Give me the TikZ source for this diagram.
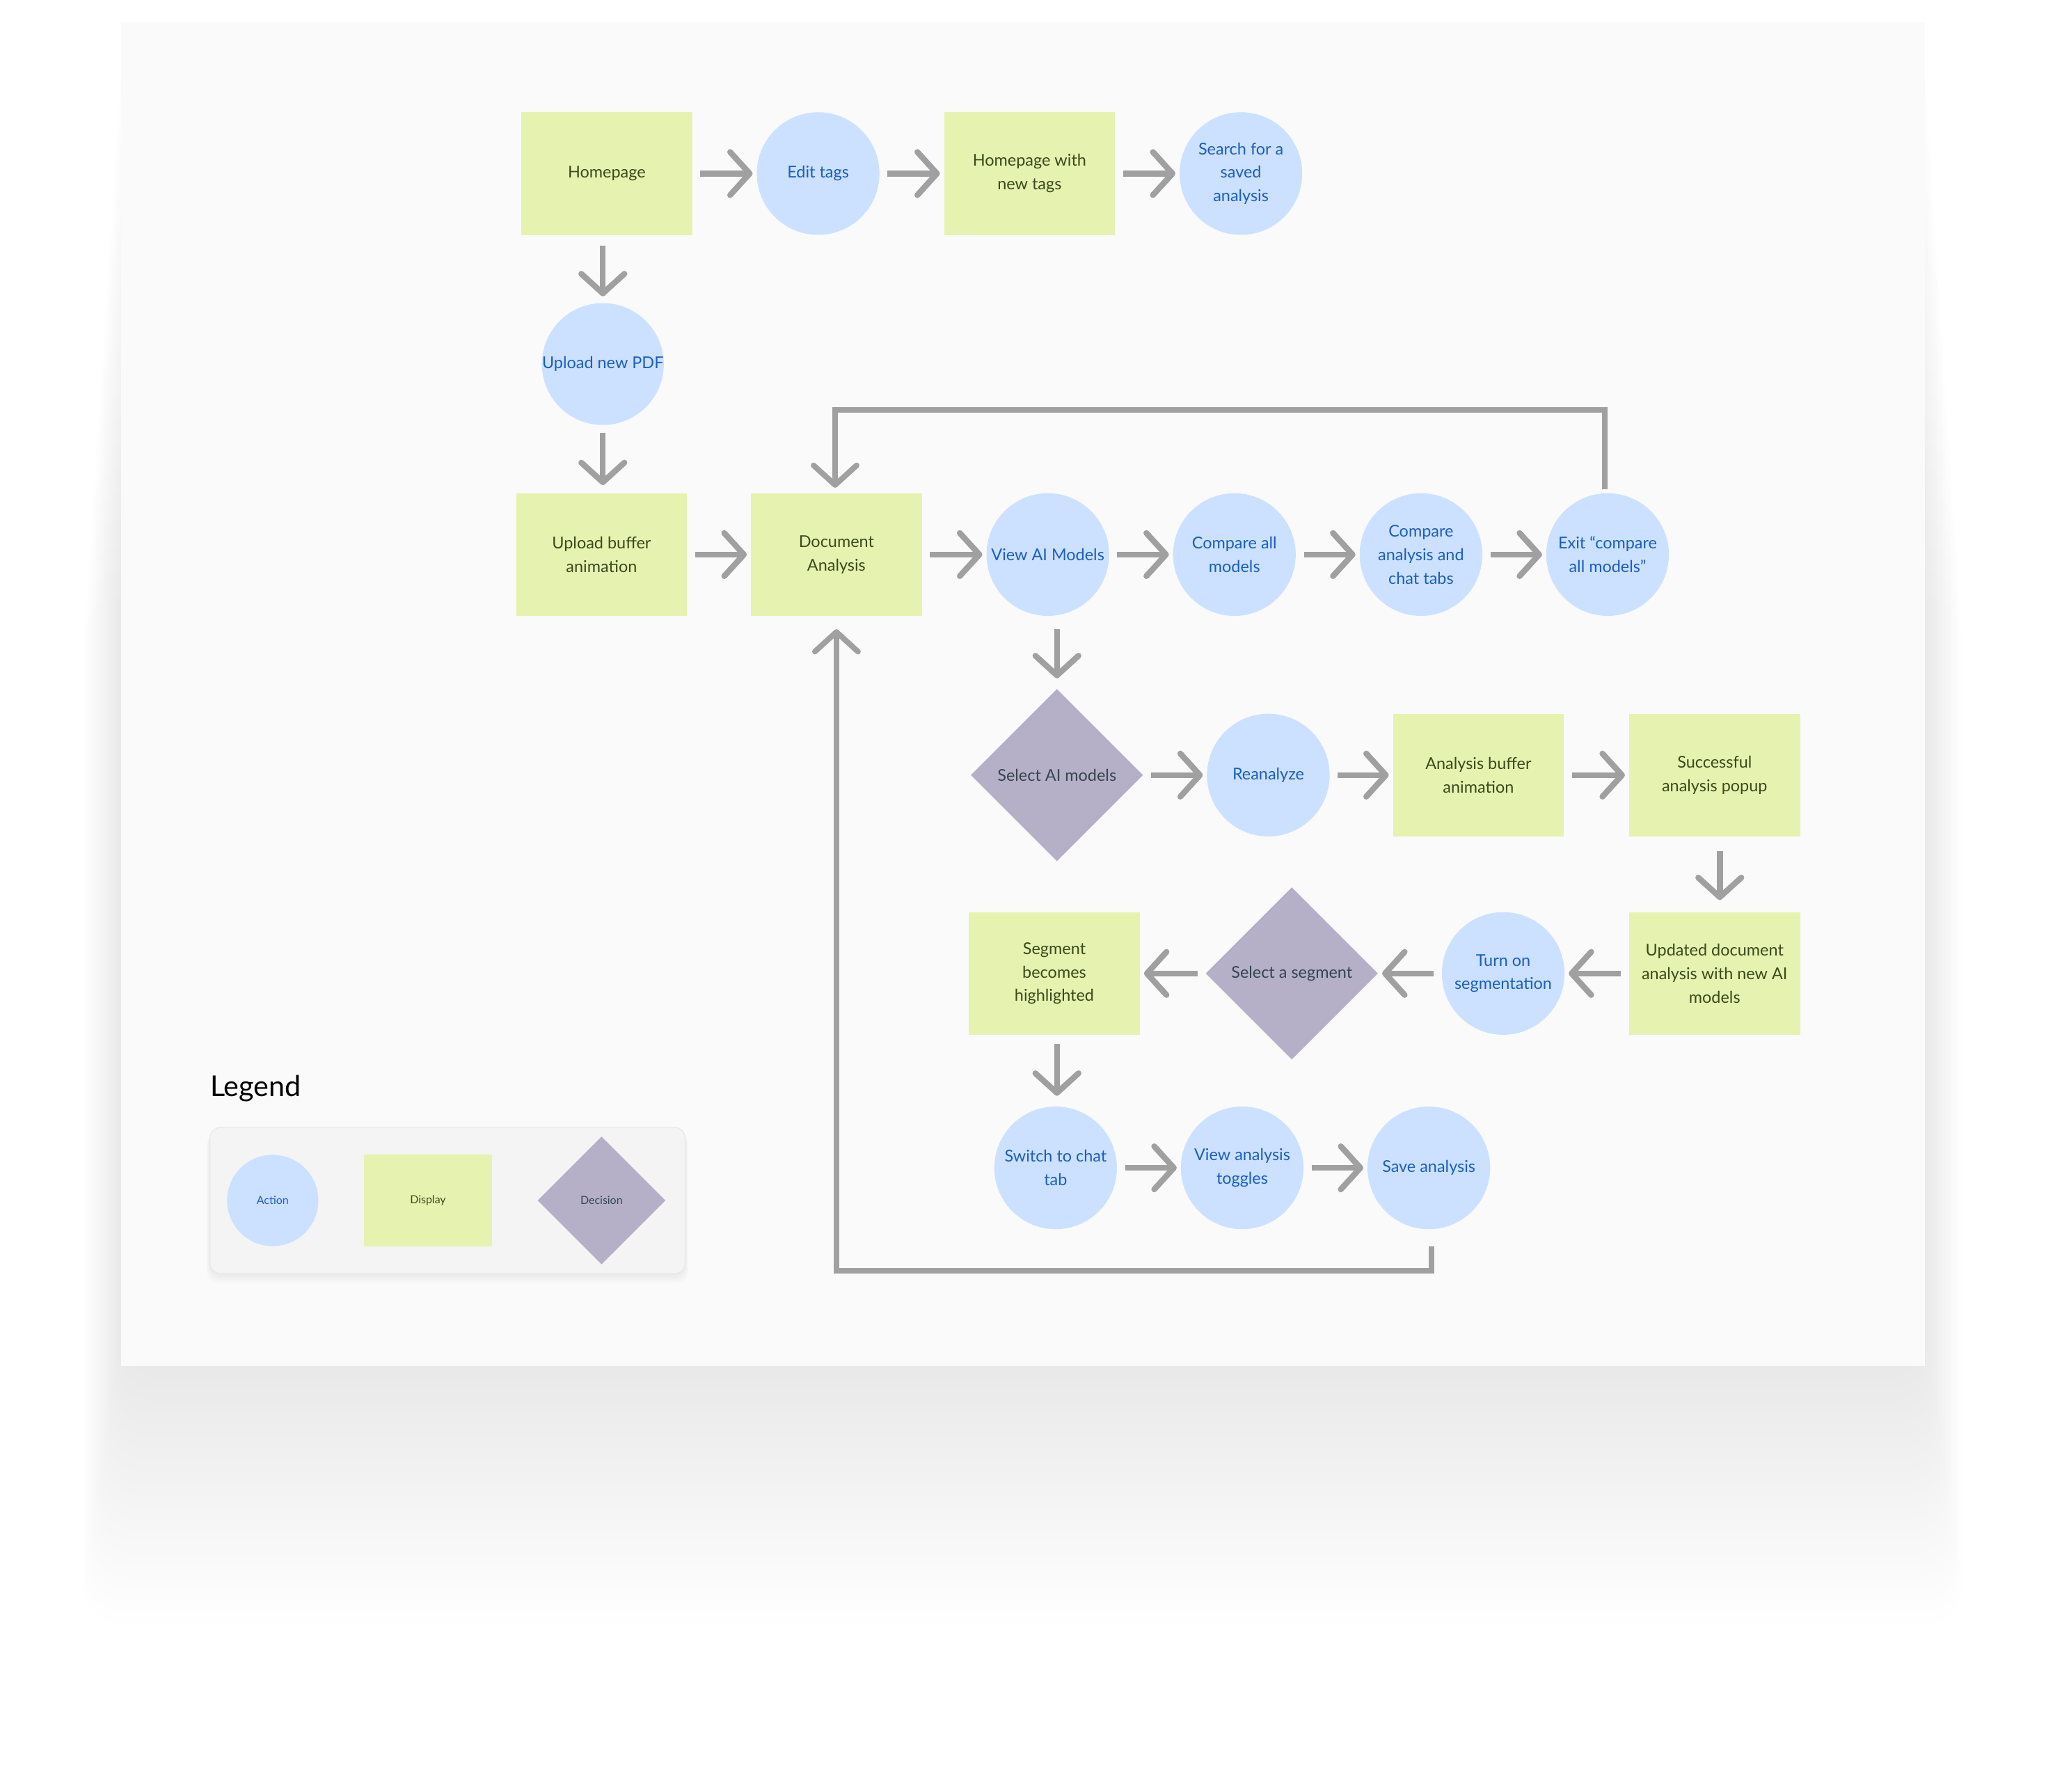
\documentclass[tikz,border=0pt]{standalone}
\usepackage{fontspec}
\setmainfont{Lato}
\usetikzlibrary{arrows.meta,shapes.geometric}
\definecolor{dispfill}{HTML}{E6F2B0}
\definecolor{disptext}{HTML}{3B4A1C}
\definecolor{actfill}{HTML}{CCE1FF}
\definecolor{acttext}{HTML}{1B5FBF}
\definecolor{decfill}{HTML}{B5B0C8}
\definecolor{dectext}{HTML}{33474F}
\definecolor{arrowgray}{HTML}{A0A0A0}
\definecolor{panel}{HTML}{FAFAFA}
\definecolor{legendfill}{HTML}{F4F4F4}
\definecolor{legendborder}{HTML}{E8E8E8}
\tikzset{
  mainfs/.style={font=\fontsize{12.5}{18}\selectfont},
  disp/.style={rectangle, fill=dispfill, minimum width=131pt, minimum height=94pt, text=disptext, align=center, inner sep=0pt, mainfs},
  act/.style={circle, fill=actfill, minimum size=94pt, text=acttext, align=center, inner sep=0pt, mainfs},
  dec/.style={diamond, fill=decfill, minimum width=132pt, minimum height=132pt, text=dectext, align=center, inner sep=0pt, mainfs},
  flow/.style={draw=arrowgray, line width=4.5pt, -{Straight Barb[length=15pt,width=33pt,round]}, shorten <=6pt, shorten >=3pt},
  loopline/.style={draw=arrowgray, line width=4.3pt, -{Straight Barb[length=15pt,width=33pt,round]}},
  legfs/.style={font=\fontsize{8.5}{10}\selectfont},
}
\begin{document}
\begin{tikzpicture}[x=1pt,y=-1pt]
\useasboundingbox (0,0) rectangle (1568,1373);
\fill[white] (0,0) rectangle (1568,1373);
% panel shadow
\foreach \i in {1,...,22}{
  \fill[black, opacity=0.004, rounded corners=30pt] (93-1.3*\i,17+20*\i) rectangle (1475+1.3*\i,1047+9*\i);
}
\fill[panel] (93,17) rectangle (1475,1047);

% row 1
\node[disp] (home) at (465,133) {Homepage};
\node[act] (edit) at (627,133) {Edit tags};
\node[disp] (homenew) at (789,133) {Homepage with\\new tags};
\node[act] (search) at (951,133) {Search for a\\saved\\analysis};
\node[act, minimum size=93pt] (upload) at (462,279) {Upload new PDF};
% row 2
\node[disp] (ubuf) at (461,425) {Upload buffer\\animation};
\node[disp] (doc) at (641,425) {Document\\Analysis};
\node[act] (view) at (803,425) {View AI Models};
\node[act] (cmpall) at (946,425) {Compare all\\models};
\node[act] (cmpchat) at (1089,425) {Compare\\analysis and\\chat tabs};
\node[act] (exit) at (1232,425) {Exit “compare\\all models”};
% row 3
\node[dec] (selai) at (810,594) {Select AI models};
\node[act] (rean) at (972,594) {Reanalyze};
\node[disp] (abuf) at (1133,594) {Analysis buffer\\animation};
\node[disp] (succ) at (1314,594) {Successful\\analysis popup};
% row 4
\node[disp] (upd) at (1314,746) {Updated document\\analysis with new AI\\models};
\node[act] (turn) at (1152,746) {Turn on\\segmentation};
\node[dec] (selseg) at (990,746) {Select a segment};
\node[disp] (seghl) at (808,746) {Segment\\becomes\\highlighted};
% row 5
\node[act] (switch) at (809,895) {Switch to chat\\tab};
\node[act] (vtog) at (952,895) {View analysis\\toggles};
\node[act] (save) at (1095,895) {Save analysis};

% horizontal arrows
\draw[flow] (home) -- (edit);
\draw[flow] (edit) -- (homenew);
\draw[flow] (homenew) -- (search);
\draw[flow] (ubuf) -- (doc);
\draw[flow] (doc) -- (view);
\draw[flow] (view) -- (cmpall);
\draw[flow] (cmpall) -- (cmpchat);
\draw[flow] (cmpchat) -- (exit);
\draw[flow] (selai) -- (rean);
\draw[flow] (rean) -- (abuf);
\draw[flow] (abuf) -- (succ);
\draw[flow] (upd) -- (turn);
\draw[flow] (turn) -- (selseg);
\draw[flow] (selseg) -- (seghl);
\draw[flow] (switch) -- (vtog);
\draw[flow] (vtog) -- (save);
% vertical arrows
\draw[flow, shorten <=8pt, shorten >=5pt] (home.south -| upload.north) -- (upload.north);
\draw[flow, shorten <=6pt, shorten >=6pt] (upload.south) -- (upload.south |- ubuf.north);
\draw[flow, shorten <=10pt, shorten >=8pt] (view.south -| selai.north) -- (selai.north);
\coordinate (sx) at (1318,0);
\draw[flow, shorten <=11pt, shorten >=9pt] (succ.south -| sx) -- (upd.north -| sx);
\coordinate (hx) at (810,0);
\draw[flow, shorten <=7pt, shorten >=8pt] (seghl.south -| hx) -- (switch.north -| hx);

% loops
\coordinate (tl) at (640,314);
\coordinate (tr) at (1230,314);
\draw[loopline, shorten <=3pt, shorten >=4pt] (exit.north -| tr) -- (tr) -- (tl) -- (doc.north -| tl);
\coordinate (br) at (1097,974);
\coordinate (bl) at (641,974);
\draw[loopline, shorten <=13pt, shorten >=10pt] (save.south -| br) -- (br) -- (bl) -- (doc.south -| bl);

% legend
\node[anchor=base west, inner sep=0pt, font=\fontsize{22}{26}\selectfont, text=black] (legtitle) at (161,840) {Legend};
\foreach \j in {1,...,5}{
  \fill[black, opacity=0.012, rounded corners=9pt] (161-0.5*\j,864+1*\j) rectangle (525+0.5*\j,976+1.5*\j);
}
\draw[fill=legendfill, draw=legendborder, line width=0.6pt, rounded corners=8pt] (161,864) rectangle (525,976);
\node[act, minimum size=70pt, legfs] (legact) at (209,920) {Action};
\node[disp, minimum width=98pt, minimum height=70pt, legfs] (legdisp) at (328,920) {Display};
\node[dec, minimum width=98pt, minimum height=98pt, legfs] (legdec) at (461,920) {Decision};
\end{tikzpicture}
\end{document}
